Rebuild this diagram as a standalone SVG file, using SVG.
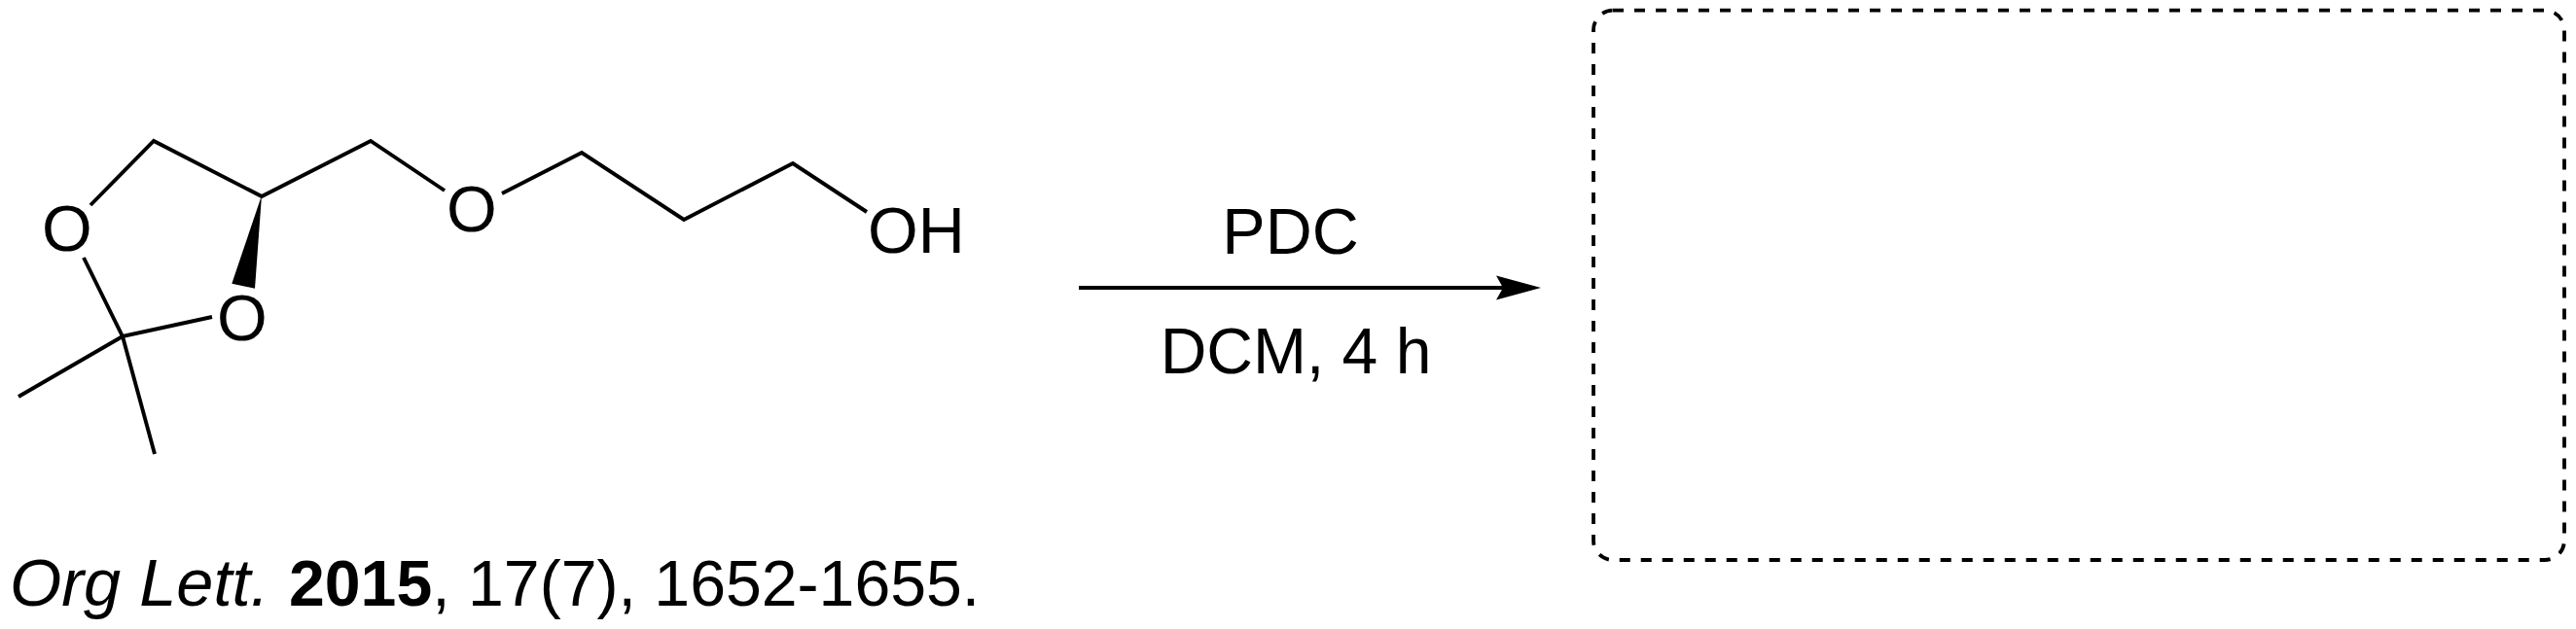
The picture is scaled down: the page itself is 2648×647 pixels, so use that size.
<svg xmlns="http://www.w3.org/2000/svg" width="2648" height="647" viewBox="0 0 2648 647">
<style>
text{font-family:"Liberation Sans",Arial,sans-serif;font-size:66.500px;fill:#000}
.b{fill:none;stroke:#000;stroke-width:3.900}
</style>
<defs>
<marker id="ah" markerUnits="userSpaceOnUse" markerWidth="48" markerHeight="30" refX="26" refY="15" orient="auto"><path d="M0 2.500L46 15L0 27.500L7 15Z" fill="#000"/></marker>
</defs>
<rect width="2648" height="647" fill="#fff"/>
<g id="connectors">
<polyline class="b" points="93,211 158,145 269,202 381,145 457,196"/>
<polyline class="b" points="86,265 126,346 218,326"/>
<line class="b" x1="126" y1="346" x2="19" y2="408"/>
<line class="b" x1="126" y1="346" x2="159" y2="467"/>
<polygon points="269,201 238.300,291.700 262,296.700" fill="#000"/>
<polyline class="b" points="516,199 598,157 703,226 815,168 891,218"/>
<line class="b" x1="1109" y1="296" x2="1564" y2="296" marker-end="url(#ah)"/>
</g>
<g id="atom-o1"><text x="43" y="258">O</text></g>
<g id="atom-o2"><text x="223" y="350">O</text></g>
<g id="atom-o3"><text x="459" y="238">O</text></g>
<g id="atom-oh"><text x="892" y="260">OH</text></g>
<g id="reagent"><text x="1326.500" y="261" text-anchor="middle">PDC</text></g>
<g id="conditions"><text x="1332" y="384" text-anchor="middle" style="font-size:66px">DCM, 4 h</text></g>
<g id="citation"><text x="10" y="623" style="font-size:66.200px"><tspan font-style="italic" style="font-size:68.500px">Org Lett.</tspan> <tspan font-weight="bold" x="297">2015</tspan>, 17(7), 1652-1655.</text></g>
<g id="product-box"><rect x="1638" y="10.700" width="998" height="565.300" rx="20" ry="20" fill="none" stroke="#000" stroke-width="3.800" stroke-dasharray="11 11"/></g>
</svg>
